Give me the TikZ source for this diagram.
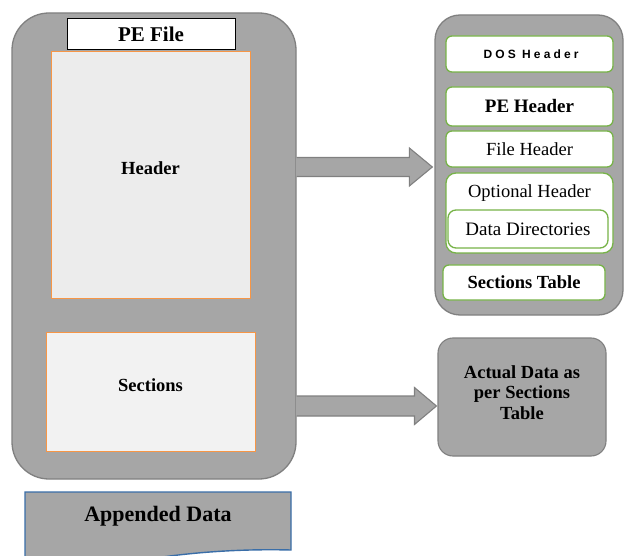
\documentclass[tikz,border=0pt]{standalone}
\usepackage{fontspec}
\setmainfont{Liberation Serif}
\newfontfamily\dosfont[LetterSpace=26]{Liberation Sans}
\usetikzlibrary{calc}
\definecolor{panelgray}{HTML}{A6A6A6}
\definecolor{panelline}{HTML}{808080}
\definecolor{lightfill}{HTML}{ECECEC}
\definecolor{orangeline}{HTML}{F79646}
\definecolor{greenline}{HTML}{77B348}
\definecolor{blueline}{HTML}{3A6EA8}
\tikzset{
  panel/.style={draw=panelline, fill=panelgray, line width=1.3pt, inner sep=0pt},
  inbox/.style={draw=orangeline, fill=lightfill, line width=0.9pt, inner sep=0pt},
  gbox/.style={draw=greenline, fill=white, line width=1.3pt, rounded corners=6pt, inner sep=0pt},
  fatarrow/.style={draw=panelline, fill=panelgray, line width=1.1pt, line join=miter},
  bigtxt/.style={font=\fontsize{21}{24}\selectfont\bfseries},
  midtxt/.style={font=\fontsize{18.5}{21}\selectfont\bfseries},
  rtxt/.style={font=\fontsize{18.5}{21}\selectfont},
}
\begin{document}
\begin{tikzpicture}[x=1pt,y=-1pt]
\useasboundingbox (0,0) rectangle (624,556);
\clip (0,0) rectangle (624,556);
\fill[white] (0,0) rectangle (624,556);
% left panel
\node[panel, rounded corners=37pt, minimum width=284pt, minimum height=466pt] (L) at (154,246) {};
\node[draw=black, fill=white, line width=1pt, inner sep=0pt, minimum width=168pt, minimum height=31pt, bigtxt] (pefile) at (151,34.5) {PE File};
\node[inbox, minimum width=199pt, minimum height=247pt] (hdr) at (150.5,174.5) {};
\node[midtxt, inner sep=0pt] (hdrtxt) at (150.5,168) {Header};
\node[inbox, fill=lightfill!70!white, minimum width=209pt, minimum height=119pt] (sec) at (150.5,391.5) {};
\node[midtxt, inner sep=0pt] (sectxt) at (150.5,385) {Sections};
% right panel
\node[panel, rounded corners=25pt, minimum width=188pt, minimum height=300pt] (R) at (529,165) {};
\node[gbox, minimum width=167pt, minimum height=36pt] (dos) at (529.5,54) {};
\node[inner sep=0pt, font=\dosfont\bfseries\fontsize{12}{14}\selectfont] (dostxt) at (531,54) {DOS Header};
\node[gbox, minimum width=167pt, minimum height=39pt, font=\fontsize{19}{22}\selectfont\bfseries] (peh) at (529.5,106.5) {PE Header};
\node[gbox, minimum width=167pt, minimum height=36pt, rtxt] (fh) at (529.5,149) {File Header};
\node[gbox, rounded corners=10pt, minimum width=167pt, minimum height=80pt] (opt) at (529.5,213) {};
\node[rtxt, inner sep=0pt] (opttxt) at (529.5,193) {Optional Header};
\node[gbox, rounded corners=8pt, minimum width=160pt, minimum height=38pt, font=\fontsize{19}{22}\selectfont] (dd) at (528,229) {Data Directories};
\node[gbox, minimum width=162pt, minimum height=35pt, font=\fontsize{18.5}{22}\selectfont\bfseries] (st) at (524,282.5) {Sections Table};
% actual data
\node[panel, line width=1.1pt, rounded corners=15pt, minimum width=168pt, minimum height=118pt] (act) at (522,397) {};
\node[align=center, inner sep=0pt, font=\fontsize{18.5}{20.5}\selectfont\bfseries] (acttxt) at (522,392.5) {Actual Data as\\per Sections\\Table};
% arrows
\coordinate (a1s) at (L.east |- 0,167);
\coordinate (a1e) at ($(R.west |- 0,167)+(-2,0)$);
\fill[panelgray] ($(a1s)+(-1,-9.5)$) rectangle ($(a1e)+(-22,9.5)$);
\draw[fatarrow] ($(a1s)+(0,-9.5)$) -- ($(a1e)+(-23,-9.5)$) -- ($(a1e)+(-23,-19)$) -- (a1e) -- ($(a1e)+(-23,19)$) -- ($(a1e)+(-23,9.5)$) -- ($(a1s)+(0,9.5)$);
\coordinate (a2s) at (L.east |- 0,406);
\coordinate (a2e) at ($(act.west |- 0,406)+(-1,0)$);
\fill[panelgray] ($(a2s)+(-1,-10)$) rectangle ($(a2e)+(-21,10)$);
\draw[fatarrow] ($(a2s)+(0,-10)$) -- ($(a2e)+(-22,-10)$) -- ($(a2e)+(-22,-18.5)$) -- (a2e) -- ($(a2e)+(-22,18.5)$) -- ($(a2e)+(-22,10)$) -- ($(a2s)+(0,10)$);
% appended data
\draw[draw=blueline, fill=panelgray, line width=1.4pt] (25,600) -- (25,492) -- (291,492) -- (291,550) .. controls (250,549) and (210,551) .. (170,556) .. controls (120,563) and (60,572) .. (25,575);
\node[inner sep=0pt, font=\fontsize{22}{24}\selectfont\bfseries] (app) at (158,516) {Appended Data};
\end{tikzpicture}
\end{document}
